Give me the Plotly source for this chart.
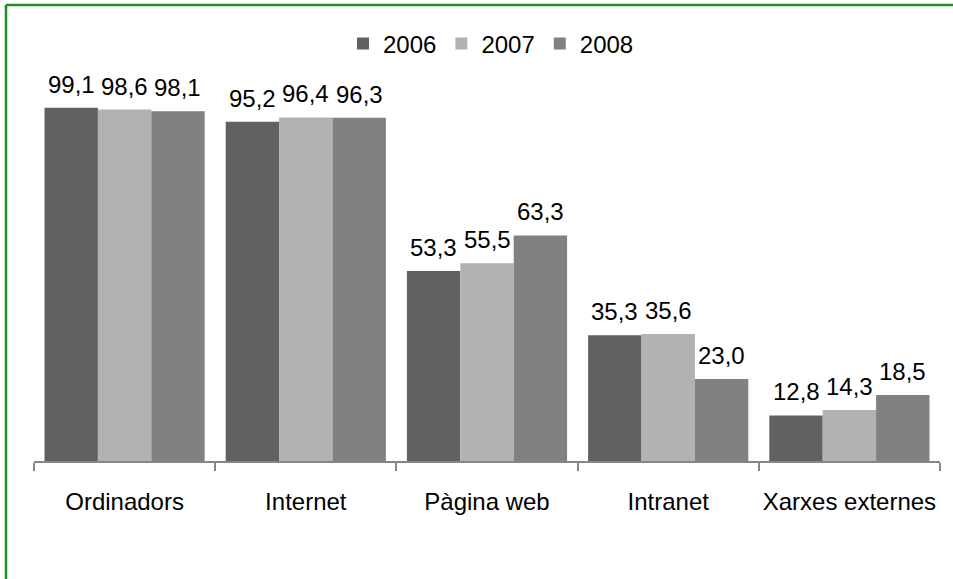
import plotly.graph_objects as go

categories = ["Ordinadors", "Internet", "Pàgina web", "Intranet", "Xarxes externes"]
years = ["2006", "2007", "2008"]
values_2006 = [99.1, 95.2, 53.3, 35.3, 12.8]
values_2007 = [98.6, 96.4, 55.5, 35.6, 14.3]
values_2008 = [98.1, 96.3, 63.3, 23.0, 18.5]
series = [values_2006, values_2007, values_2008]
colors = ["#616161", "#b2b2b2", "#818181"]

W, H = 953, 579
ml, mr, mt, mb = 34, 13, 70, 118
plot_w = W - ml - mr
plot_h = H - mt - mb
ymax = 109.7
FONT = "Liberation Sans, Arial, sans-serif"
FS = 24

fig = go.Figure()
for name, vals, col in zip(years, series, colors):
    fig.add_trace(go.Bar(
        name=name, x=categories, y=vals, marker=dict(color=col, line=dict(width=0)),
        hoverinfo="skip",
    ))

bargap = 0.116
bar_px = plot_w / len(categories) * (1 - bargap) / 3
offsets = [-bar_px, 0, bar_px]
annotations = []
for vals, off in zip(series, offsets):
    for c, v in zip(categories, vals):
        annotations.append(dict(
            x=c, y=v, xref="x", yref="y", text=f"{v:.1f}".replace(".", ","),
            showarrow=False, xshift=off, yanchor="bottom", yshift=8,
            font=dict(size=FS, color="#000000", family=FONT),
        ))

def px2paper_x(px):
    return (px - ml) / plot_w

def px2paper_y(py):
    return (H - mb - py) / plot_h

green = "#1f8f1f"
shapes = [
    dict(type="line", xref="paper", yref="paper", x0=px2paper_x(6), x1=px2paper_x(960),
         y0=px2paper_y(5), y1=px2paper_y(5), line=dict(color=green, width=2.5)),
    dict(type="line", xref="paper", yref="paper", x0=px2paper_x(6), x1=px2paper_x(6),
         y0=px2paper_y(5), y1=px2paper_y(590), line=dict(color=green, width=2.5)),
]

fig.update_layout(
    width=W, height=H,
    margin=dict(l=ml, r=mr, t=mt, b=mb, autoexpand=False),
    paper_bgcolor="white", plot_bgcolor="white",
    barmode="group", bargap=bargap, bargroupgap=0,
    font=dict(family=FONT, size=FS, color="#000000"),
    showlegend=True,
    legend=dict(orientation="h", x=px2paper_x(491), xanchor="center", y=px2paper_y(44), yanchor="middle",
                font=dict(size=FS, family=FONT), itemwidth=30, tracegroupgap=0,
                bgcolor="rgba(0,0,0,0)"),
    annotations=annotations,
    shapes=shapes,
)
fig.update_xaxes(
    showline=True, linecolor="#868686", linewidth=1.5,
    ticks="outside", tickson="boundaries", ticklen=8, tickcolor="#868686", tickwidth=1.5,
    tickfont=dict(size=FS, family=FONT, color="#000000"), ticklabelstandoff=18,
    tickangle=0,
    showgrid=False, zeroline=False, fixedrange=True,
)
fig.update_yaxes(
    range=[0, ymax], visible=False, showgrid=False, zeroline=False, fixedrange=True,
)

fig.write_html("out.html", config={"displayModeBar": False},
               post_script="document.body.style.margin='0';")
